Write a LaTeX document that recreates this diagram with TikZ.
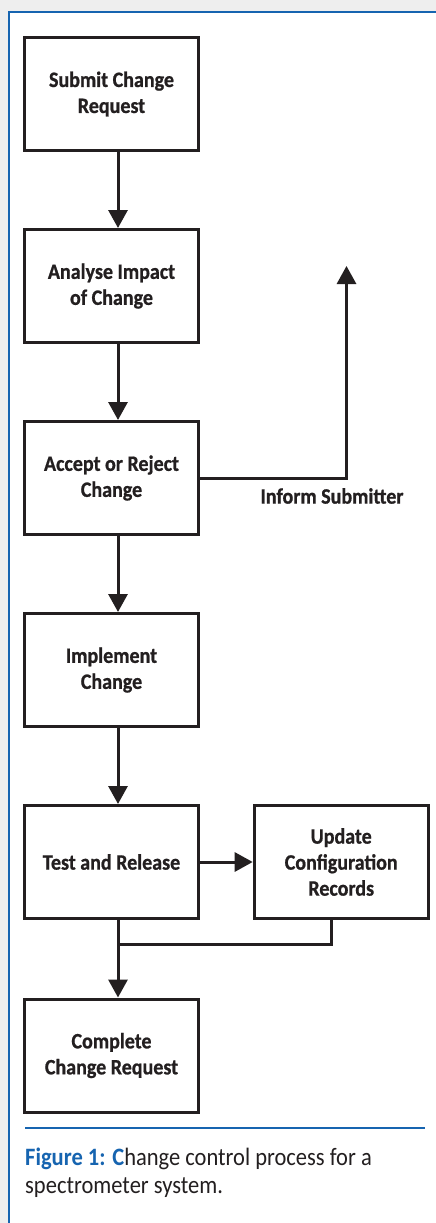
\documentclass[tikz,border=0pt]{standalone}
\usepackage{fontspec}
\setmainfont{Carlito}
\newfontfamily\boxfont[FakeBold=0.8,FakeStretch=0.91]{Carlito}
\newfontfamily\capfont[FakeStretch=0.9]{Carlito}
\usetikzlibrary{arrows.meta,positioning}
\definecolor{figblue}{RGB}{22,100,176}
\definecolor{ink}{RGB}{35,31,32}
\definecolor{shade}{RGB}{238,238,238}
\tikzset{>={Triangle[length=18pt,width=19pt]}}
\tikzset{stepbox/.style={draw=ink, line width=3pt, fill=white,
    minimum width=174pt, minimum height=113pt, inner sep=0pt,
    align=center, text=ink, font=\boxfont\bfseries\fontsize{22}{26}\selectfont}}
\tikzset{flow/.style={draw=ink, line width=3pt}}

\begin{document}
\begin{tikzpicture}[x=1pt, y=-1pt, node distance=76pt]
  \useasboundingbox (0,0) rectangle (436,1223);

    %%%% Page and frame
    \path[fill=shade] (0,0) rectangle (436,1223);
    \path[fill=white] (9,12) rectangle (436,1223);
    \draw[figblue, line width=2pt] (9,1223) -- (9,12) -- (436,12);

    %%%% Main column
    \node[stepbox](submit) at (111.5,94) {Submit Change\\Request};
    \node[stepbox](analyse)   [below=of submit]   {Analyse Impact\\of Change};
    \node[stepbox](accept)    [below=of analyse]  {Accept or Reject\\Change};
    \node[stepbox](implement) [below=of accept]   {Implement\\Change};
    \node[stepbox](test)      [below=of implement]{Test and Release};
    \node[stepbox](update)    [right=52.7pt of test] {Update\\Configuration\\Records};
    \node[stepbox](complete)  [below=77.5pt of test] {Complete\\Change Request};

    %%%% Helper points
    \coordinate (spine) at (118,0);
    \coordinate (inform) at (346.5,266);
    \coordinate (join) at (118,944);
    \coordinate (riser) at (331,0);

    \node[font=\boxfont\bfseries\fontsize{22}{26}\selectfont, text=ink](informtext) at (332,496) {Inform Submitter};

    %%%% Edges
    \draw [->][flow] (submit.south -| spine) to (analyse.north -| spine);
    \draw [->][flow] (analyse.south -| spine) to (accept.north -| spine);
    \draw [->][flow] (accept.south -| spine) to (implement.north -| spine);
    \draw [->][flow] (implement.south -| spine) to (test.north -| spine);
    \draw [->][flow] (test.south -| spine) to (complete.north -| spine);
    \draw [->][flow] (test) to (update);
    \draw [->][flow] (accept.east) -| (inform);
    \draw [flow] (update.south -| riser) |- (join);

    %%%% Caption
    \draw[figblue, line width=2.2pt] (25,1128) -- (425,1128);
    \node[anchor=base west, inner sep=0pt, text=ink,
      font=\capfont\fontsize{25}{28}\selectfont](caption) at (25,1165)
      {\textcolor{figblue}{\bfseries Figure 1: C}hange control process for a};
    \node[anchor=base west, inner sep=0pt, text=ink,
      font=\capfont\fontsize{25}{28}\selectfont](caption2) at (25,1193)
      {spectrometer system.};

  \end{tikzpicture}
\end{document}
